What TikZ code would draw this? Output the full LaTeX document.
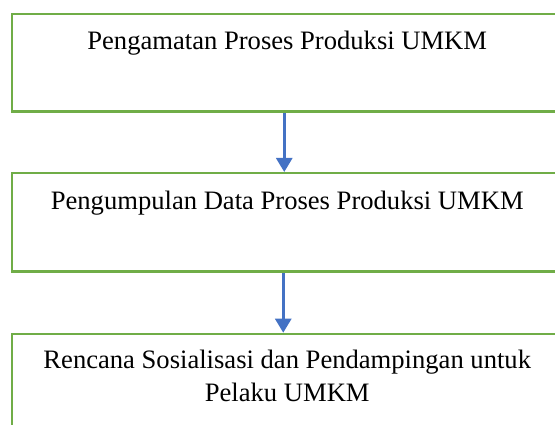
\documentclass[tikz,border=0pt]{standalone}
\usepackage{fontspec}
\setmainfont{Liberation Serif}
\usetikzlibrary{arrows.meta}
\definecolor{boxgreen}{HTML}{70AD47}
\definecolor{arrowblue}{HTML}{4472C4}
\tikzset{
    stagebox/.style={draw=boxgreen, line width=2.5pt, rectangle, minimum width=551pt, inner sep=0pt, anchor=north west},
    stagetext/.style={font=\fontsize{26.6}{33.5}\selectfont, align=center, inner sep=0pt, anchor=base},
    flow/.style={draw=arrowblue, line width=2.8pt, -{Triangle[width=16pt,length=14pt]}}
}
\begin{document}
\begin{tikzpicture}[x=1pt, y=-1pt]
            \clip (0,0) rectangle (555,425);
            \node[stagebox, minimum height=97.5pt] (box1) at (10.5,12.7) {};
            \node[stagebox, minimum height=98.5pt] (box2) at (10.5,172) {};
            \node[stagebox, minimum height=130pt] (box3) at (10.5,332.7) {};

            \node[stagetext] (t1) at ([yshift=-36.5pt]box1.north) {Pengamatan Proses Produksi UMKM};
            \node[stagetext] (t2) at ([yshift=-38pt]box2.north) {Pengumpulan Data Proses Produksi UMKM};
            \node[stagetext] (t3) at ([yshift=-69pt]box3.north) {Rencana Sosialisasi dan Pendampingan untuk\\Pelaku UMKM};

            \draw[flow] ([xshift=-3pt]box1.south) -- ([xshift=-3pt]box2.north);
            \draw[flow] ([xshift=-4pt]box2.south) -- ([xshift=-4pt]box3.north);
        \end{tikzpicture}
\end{document}
